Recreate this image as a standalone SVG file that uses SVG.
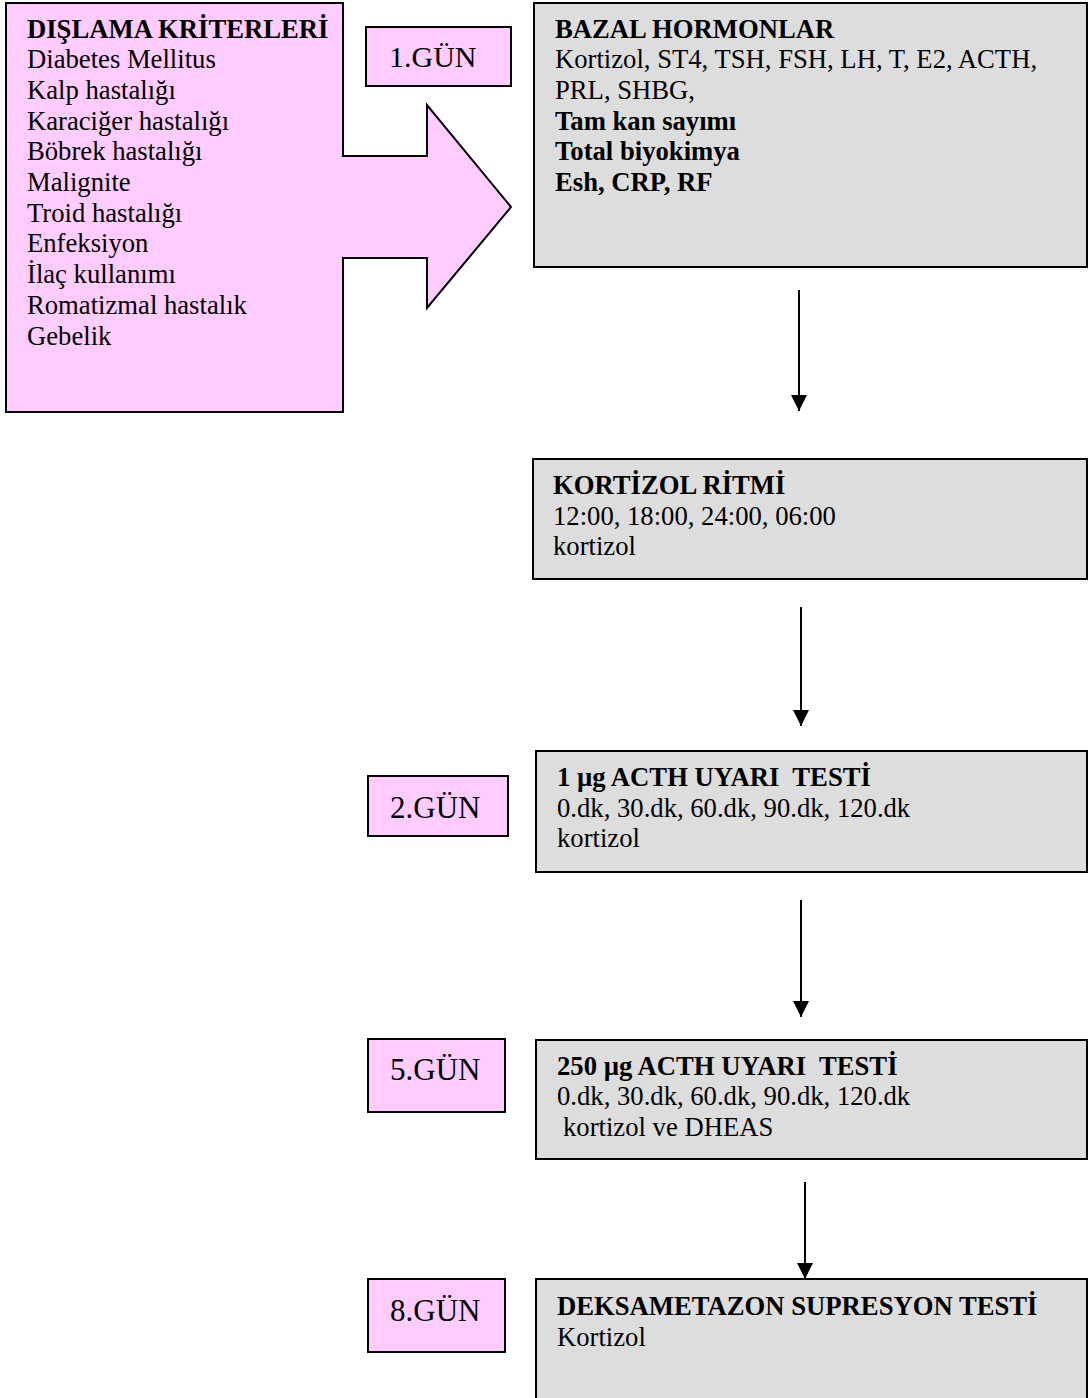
<svg xmlns="http://www.w3.org/2000/svg" width="1088" height="1398" viewBox="0 0 1088 1398">
<style>
text{font-family:"Liberation Serif","Times New Roman",serif;font-size:26.67px;fill:#000}
.b{font-weight:bold}
.day{font-size:31px}
.pink{fill:#ffccff;stroke:#000;stroke-width:2}
.gray{fill:#dddddd;stroke:#000;stroke-width:2}
.conn{stroke:#000;stroke-width:2;fill:none}
</style>
<defs>
<marker id="ah" markerUnits="userSpaceOnUse" markerWidth="16" markerHeight="16" refX="16" refY="8" orient="auto">
<path d="M0,0 L16,8 L0,16 z" fill="#000"/>
</marker>
</defs>
<rect width="1088" height="1398" fill="#fff"/>
<g id="dislama">
<polygon class="pink" points="6,3 343,3 343,156 427,156 427,105 511,207 427,308 427,258 343,258 343,412 6,412"/>
<text x="27" y="37.5" class="b">DIŞLAMA KRİTERLERİ</text>
<text x="27" y="68.2">Diabetes Mellitus</text>
<text x="27" y="98.9">Kalp hastalığı</text>
<text x="27" y="129.6">Karaciğer hastalığı</text>
<text x="27" y="160.3">Böbrek hastalığı</text>
<text x="27" y="191">Malignite</text>
<text x="27" y="221.7">Troid hastalığı</text>
<text x="27" y="252.4">Enfeksiyon</text>
<text x="27" y="283.1">İlaç kullanımı</text>
<text x="27" y="313.8">Romatizmal hastalık</text>
<text x="27" y="344.5">Gebelik</text>
</g>
<g id="gun1">
<rect class="pink" x="366" y="27" width="145" height="59"/>
<text x="389" y="67" class="day" style="font-size:30px">1.GÜN</text>
</g>
<g id="bazal">
<rect class="gray" x="534" y="3" width="553" height="264"/>
<text x="555" y="37.5" class="b">BAZAL HORMONLAR</text>
<text x="555" y="68.3">Kortizol, ST4, TSH, FSH, LH, T, E2, ACTH,</text>
<text x="555" y="99">PRL, SHBG,</text>
<text x="555" y="129.7" class="b">Tam kan sayımı</text>
<text x="555" y="160.4" class="b">Total biyokimya</text>
<text x="555" y="191.1" class="b">Esh, CRP, RF</text>
</g>
<g id="ritim">
<rect class="gray" x="533" y="459" width="554" height="120"/>
<text x="553" y="494" class="b">KORTİZOL RİTMİ</text>
<text x="553" y="524.5">12:00, 18:00, 24:00, 06:00</text>
<text x="553" y="555">kortizol</text>
</g>
<g id="gun2">
<rect class="pink" x="368" y="776" width="140" height="60"/>
<text x="390" y="818" class="day">2.GÜN</text>
</g>
<g id="acth1">
<rect class="gray" x="536" y="751" width="551" height="121"/>
<text x="557" y="786" class="b" xml:space="preserve">1 µg ACTH UYARI  TESTİ</text>
<text x="557" y="816.5">0.dk, 30.dk, 60.dk, 90.dk, 120.dk</text>
<text x="557" y="847">kortizol</text>
</g>
<g id="gun5">
<rect class="pink" x="368" y="1039" width="137" height="73"/>
<text x="390" y="1080" class="day">5.GÜN</text>
</g>
<g id="acth250">
<rect class="gray" x="536" y="1040" width="551" height="119"/>
<text x="557" y="1074.5" class="b" xml:space="preserve">250 µg ACTH UYARI  TESTİ</text>
<text x="557" y="1105">0.dk, 30.dk, 60.dk, 90.dk, 120.dk</text>
<text x="563" y="1135.5">kortizol ve DHEAS</text>
</g>
<g id="gun8">
<rect class="pink" x="368" y="1279" width="137" height="73"/>
<text x="390" y="1321" class="day">8.GÜN</text>
</g>
<g id="deksametazon">
<rect class="gray" x="536" y="1279" width="551" height="130"/>
<text x="557" y="1315" class="b">DEKSAMETAZON SUPRESYON TESTİ</text>
<text x="557" y="1346">Kortizol</text>
</g>
<g id="connectors">
<line class="conn" x1="799" y1="290" x2="799" y2="411" marker-end="url(#ah)"/>
<line class="conn" x1="801" y1="607" x2="801" y2="726" marker-end="url(#ah)"/>
<line class="conn" x1="801" y1="900" x2="801" y2="1017" marker-end="url(#ah)"/>
<line class="conn" x1="805" y1="1182" x2="805" y2="1279" marker-end="url(#ah)"/>
</g>
</svg>
